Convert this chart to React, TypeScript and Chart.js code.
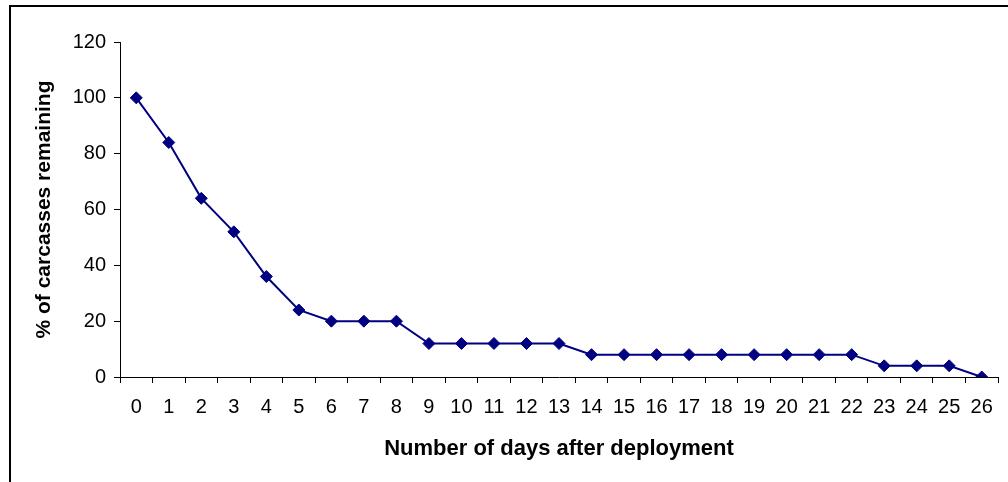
import React, { useEffect, useRef } from "react";
import { Chart, registerables } from "chart.js";

Chart.register(...registerables);

const days: string[] = [
  "0", "1", "2", "3", "4", "5", "6", "7", "8", "9", "10", "11", "12", "13",
  "14", "15", "16", "17", "18", "19", "20", "21", "22", "23", "24", "25", "26",
];
const remaining: number[] = [
  100, 84, 64, 52, 36, 24, 20, 20, 20, 12, 12, 12, 12, 12,
  8, 8, 8, 8, 8, 8, 8, 8, 8, 4, 4, 4, 0,
];
const yMin = 0;
const yMax = 120;
const yStep = 20;
const xTitle = "Number of days after deployment";
const yTitle = "% of carcasses remaining";

const FONT = "'Liberation Sans', Arial, sans-serif";

const framePlugin = {
  id: "frame",
  afterDraw(chart: any) {
    const ctx = chart.ctx;
    ctx.save();
    ctx.strokeStyle = "#000";
    ctx.lineWidth = 2;
    ctx.strokeRect(10, 6, 1200, 1200);
    ctx.restore();
  },
};

export default function App() {
  const ref = useRef<HTMLCanvasElement | null>(null);
  useEffect(() => {
    if (!ref.current) return;
    const chart = new Chart(ref.current, {
      type: "line",
      data: {
        labels: days,
        datasets: [
          {
            data: remaining,
            borderColor: "#000080",
            backgroundColor: "#000080",
            borderWidth: 2,
            pointStyle: "rectRot",
            pointRadius: 6,
            pointBorderWidth: 1,
            pointBackgroundColor: "#000080",
            pointBorderColor: "#000080",
            tension: 0,
            fill: false,
          },
        ],
      },
      options: {
        responsive: false,
        animation: false,
        layout: { padding: { left: 28, right: 10, top: 42, bottom: 9 } },
        plugins: {
          legend: { display: false },
          tooltip: { enabled: false },
        },
        scales: {
          x: {
            type: "category",
            offset: true,
            grid: {
              offset: true,
              drawOnChartArea: false,
              drawTicks: true,
              tickLength: 6,
              color: "#000",
            },
            border: { display: true, color: "#000", width: 1 },
            ticks: {
              color: "#000",
              font: { family: FONT, size: 20 },
              padding: 12,
              maxRotation: 0,
              autoSkip: false,
            },
            title: {
              display: true,
              text: xTitle,
              color: "#000",
              font: { family: FONT, size: 22, weight: "bold" },
              padding: { top: 0, bottom: 11 },
            },
            afterFit(scale: any) {
              scale.height = 96;
            },
          },
          y: {
            min: yMin,
            max: yMax,
            grid: {
              drawOnChartArea: false,
              drawTicks: true,
              tickLength: 6,
              color: "#000",
            },
            border: { display: true, color: "#000", width: 1 },
            ticks: {
              stepSize: yStep,
              color: "#000",
              font: { family: FONT, size: 20 },
              padding: 8,
            },
            title: {
              display: true,
              text: yTitle,
              color: "#000",
              font: { family: FONT, size: 21, weight: "bold" },
              padding: { top: 4, bottom: 0 },
            },
            afterFit(scale: any) {
              scale.width = 92;
            },
          },
        },
      },
      plugins: [framePlugin],
    });
    return () => chart.destroy();
  }, []);
  return (
    <div style={{ position: "fixed", left: 0, top: 0, width: 1008, height: 482, background: "#fff" }}>
      <canvas ref={ref} width={1008} height={482} style={{ width: 1008, height: 482, display: "block" }} />
    </div>
  );
}
